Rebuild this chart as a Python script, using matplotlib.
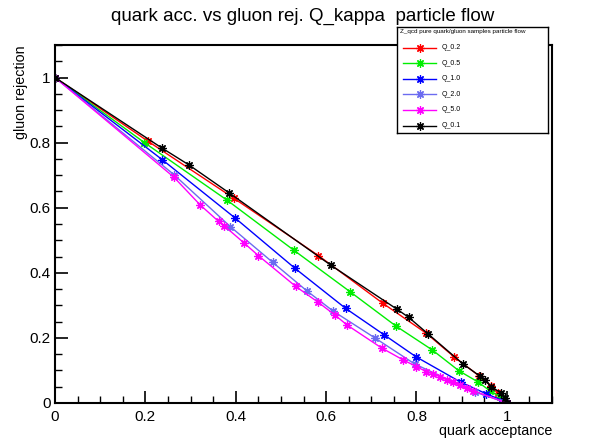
import matplotlib
matplotlib.use("Agg")
from matplotlib import pyplot as plt
from matplotlib.ticker import MultipleLocator

plt.rcParams["font.family"] = ["Liberation Sans", "DejaVu Sans"]

# Curvas ROC: aceitação de quarks x rejeição de glúons
labels = ["Q_0.2", "Q_0.5", "Q_1.0", "Q_2.0", "Q_5.0", "Q_0.1"]
colors = ["#ff0000", "#00ee00", "#0000ff", "#6b6bf0", "#ff00ff", "#000000"]

acc_02 = [0.0, 0.205, 0.396, 0.583, 0.725, 0.822, 0.883, 0.938, 0.964, 0.981, 1.0]
rej_02 = [1.0, 0.805, 0.629, 0.453, 0.307, 0.214, 0.142, 0.084, 0.053, 0.032, 0.0]

acc_05 = [0.0, 0.198, 0.380, 0.529, 0.653, 0.754, 0.835, 0.894, 0.937, 0.962, 0.985, 1.0]
rej_05 = [1.0, 0.800, 0.624, 0.469, 0.342, 0.237, 0.163, 0.099, 0.064, 0.038, 0.019, 0.0]

acc_10 = [0.0, 0.237, 0.399, 0.531, 0.643, 0.729, 0.799, 0.898, 0.955, 0.992, 1.0]
rej_10 = [1.0, 0.748, 0.568, 0.414, 0.291, 0.209, 0.142, 0.064, 0.028, 0.007, 0.0]

acc_20 = [0.0, 0.263, 0.388, 0.482, 0.557, 0.615, 0.708, 0.796, 0.929, 0.992, 1.0]
rej_20 = [1.0, 0.702, 0.542, 0.432, 0.345, 0.283, 0.200, 0.120, 0.034, 0.004, 0.0]

acc_50 = [0.0, 0.263, 0.321, 0.362, 0.374, 0.419, 0.450, 0.533, 0.583, 0.619, 0.646,
          0.723, 0.771, 0.800, 0.822, 0.837, 0.852, 0.867, 0.881, 0.896, 0.911, 0.925, 1.0]
rej_50 = [1.0, 0.694, 0.609, 0.558, 0.545, 0.491, 0.453, 0.358, 0.309, 0.271, 0.240,
          0.169, 0.132, 0.112, 0.096, 0.089, 0.081, 0.071, 0.064, 0.055, 0.045, 0.038, 0.0]

acc_01 = [0.0, 0.236, 0.297, 0.386, 0.611, 0.756, 0.783, 0.826, 0.903, 0.940, 0.951,
          0.966, 0.988, 0.996, 1.0]
rej_01 = [1.0, 0.784, 0.731, 0.645, 0.423, 0.289, 0.263, 0.212, 0.120, 0.083, 0.071,
          0.050, 0.030, 0.014, 0.0]

curves = [(acc_02, rej_02), (acc_05, rej_05), (acc_10, rej_10),
          (acc_20, rej_20), (acc_50, rej_50), (acc_01, rej_01)]

star = (8, 2, 0)

fig = plt.figure(figsize=(5.94, 4.38), dpi=100)
ax = fig.add_axes([55 / 594, 1 - 403 / 438, 497 / 594, 358 / 438])

for (x, y), c in zip(curves, colors):
    ax.plot(x, y, color=c, lw=1.0, marker=star, ms=6, mew=0.9)

ax.set_xlim(0, 1.1)
ax.set_ylim(0, 1.1)
ax.xaxis.set_major_locator(MultipleLocator(0.2))
ax.xaxis.set_minor_locator(MultipleLocator(0.05))
ax.yaxis.set_major_locator(MultipleLocator(0.2))
ax.yaxis.set_minor_locator(MultipleLocator(0.05))
ax.xaxis.set_major_formatter(lambda v, p: f"{v:g}")
ax.yaxis.set_major_formatter(lambda v, p: f"{v:g}")
ax.tick_params(which="both", direction="in", top=False, right=False, labelsize=11)
ax.tick_params(which="major", length=9, width=1.2)
ax.tick_params(which="minor", length=5, width=1.0)
ax.tick_params(axis="x", which="major", pad=5)
ax.tick_params(axis="y", which="major", pad=3)
for s in ax.spines.values():
    s.set_linewidth(1.5)

ax.set_xlabel("quark acceptance", loc="right", fontsize=10.3, labelpad=0)
ax.set_ylabel("gluon rejection", loc="top", fontsize=10.3, labelpad=1)
fig.text(303 / 594, 1 - 21 / 438, "quark acc. vs gluon rej. Q_kappa  particle flow",
         ha="center", va="baseline", fontsize=13.5)

# Legenda desenhada em coordenadas de pixel
lax = fig.add_axes([397 / 594, 1 - 133 / 438, 151 / 594, 106 / 438])
lax.set_xlim(397, 548)
lax.set_ylim(133, 27)
lax.set_xticks([])
lax.set_yticks([])
for s in lax.spines.values():
    s.set_linewidth(1.0)
lax.text(400, 32, "Z_qcd pure quark/gluon samples particle flow", fontsize=4.5,
         va="center", ha="left")
for i, (lab, c) in enumerate(zip(labels, colors)):
    yy = 47.5 + i * 15.6
    lax.plot([403, 419.5, 436], [yy, yy, yy], color=c, lw=1.0, marker=star,
             markevery=[1], ms=6, mew=0.9)
    lax.text(442, yy, lab, fontsize=5, va="center", ha="left")

fig.savefig("out.png", dpi=100)
